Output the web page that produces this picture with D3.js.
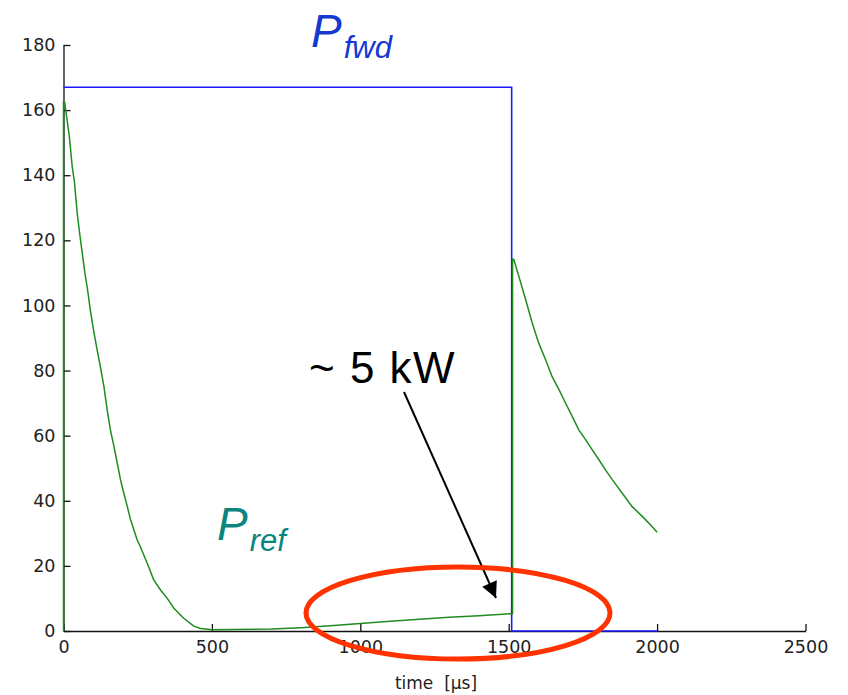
<!DOCTYPE html>
<html>
<head>
<meta charset="utf-8">
<script src="https://cdn.jsdelivr.net/npm/d3@7"></script>
<style>
  html, body { margin: 0; padding: 0; background: #fff; }
  svg { display: block; }
  .tick text { font-family: "DejaVu Sans", Arial, sans-serif; font-size: 17.5px; fill: #222; }
</style>
</head>
<body>
<svg id="chart" width="848" height="695"></svg>
<script>
// ---- data ----
const xTicks = [0, 500, 1000, 1500, 2000, 2500];
const yTicks = [0, 20, 40, 60, 80, 100, 120, 140, 160, 180];

const fwdTime = [0, 1510, 1510, 2000];
const fwdPower = [167, 167, 0, 0];

const refTime = [0, 0, 4, 12, 20, 29, 37, 46, 54, 63, 72, 81, 90, 99, 110, 124, 136, 147, 158, 170, 181, 192, 203, 215, 226, 237, 248, 259, 282, 304, 327, 349, 372, 405, 439, 462, 500, 700, 800, 900, 1000, 1100, 1200, 1300, 1400, 1505, 1513, 1513, 1517, 1534, 1557, 1579, 1601, 1624, 1646, 1669, 1691, 1714, 1736, 1759, 1781, 1804, 1826, 1849, 1882, 1916, 1950, 1983, 2000];
const refPower = [0, 162.5, 162.4, 157, 151.6, 142.9, 137.8, 128.5, 122.4, 116.2, 110, 104.9, 98.8, 93.6, 88, 81.3, 75.2, 68, 61.8, 56.7, 51.6, 46.5, 42.4, 38.2, 34.2, 31.1, 28, 25.9, 20.8, 15.7, 12.6, 10.1, 7, 3.9, 1.5, 0.8, 0.4, 0.6, 1.0, 1.6, 2.3, 3.0, 3.6, 4.2, 4.7, 5.3, 5.3, 114.2, 114.2, 109, 101.8, 94.7, 88.5, 83.4, 78.2, 74.2, 70.1, 65.9, 61.8, 58.8, 55.7, 52.6, 49.5, 46.5, 42.4, 38.2, 35.2, 32.1, 30.3];

const xLabel = "time  [\u00b5s]";

// ---- chart ----
const svg = d3.select("#chart");
const x = d3.scaleLinear().domain([0, 2500]).range([63.5, 805.5]);
const y = d3.scaleLinear().domain([0, 180]).range([631, 45]);

const line = d3.line().x(d => x(d[0])).y(d => y(d[1]));

// axes
const yAxis = svg.append("g")
  .attr("transform", `translate(${x(0)},0)`)
  .call(d3.axisLeft(y).tickValues(yTicks).tickFormat(d3.format("d"))
    .tickSizeInner(-7).tickSizeOuter(0).tickPadding(8));
const xAxis = svg.append("g")
  .attr("transform", `translate(0,${y(0)})`)
  .call(d3.axisBottom(x).tickValues(xTicks).tickFormat(d3.format("d"))
    .tickSizeInner(-7).tickSizeOuter(0).tickPadding(10));
[xAxis, yAxis].forEach(g => {
  g.selectAll("path.domain").attr("stroke", "#111").attr("stroke-width", 1.3);
  g.selectAll(".tick line").attr("stroke", "#111").attr("stroke-width", 1.3);
});

// series
svg.append("path")
  .attr("d", line(fwdTime.map((t, i) => [t, fwdPower[i]])))
  .attr("fill", "none").attr("stroke", "#1a1aff").attr("stroke-width", 1.6);
svg.append("path")
  .attr("d", line(refTime.map((t, i) => [t, refPower[i]])))
  .attr("fill", "none").attr("stroke", "#1e8c1e").attr("stroke-width", 1.5);

// axis label
svg.append("text")
  .attr("x", 436).attr("y", 689)
  .attr("text-anchor", "middle")
  .attr("font-family", "DejaVu Sans, Arial, sans-serif")
  .attr("font-size", 17).attr("fill", "#222")
  .style("white-space", "pre")
  .text(xLabel);

// P_fwd label
const tf = svg.append("text")
  .attr("x", 311).attr("y", 47)
  .attr("font-family", "Liberation Sans, Arial, sans-serif")
  .attr("font-style", "italic").attr("fill", "#1438d0");
tf.append("tspan").attr("font-size", 46).text("P");
tf.append("tspan").attr("font-size", 31).attr("dx", 2).attr("dy", 11).text("fwd");

// P_ref label
const tr = svg.append("text")
  .attr("x", 217).attr("y", 540)
  .attr("font-family", "Liberation Sans, Arial, sans-serif")
  .attr("font-style", "italic").attr("fill", "#0a8580");
tr.append("tspan").attr("font-size", 46).text("P");
tr.append("tspan").attr("font-size", 31).attr("dx", 2).attr("dy", 11).text("ref");

// ~5 kW annotation
svg.append("text")
  .attr("x", 309).attr("y", 383)
  .attr("font-family", "Liberation Sans, Arial, sans-serif")
  .attr("font-size", 44).attr("fill", "#000")
  .attr("letter-spacing", 1.5)
  .style("white-space", "pre")
  .text("~ 5 kW");

const defs = svg.append("defs");
defs.append("marker")
  .attr("id", "arrow").attr("viewBox", "0 0 10 10")
  .attr("refX", 10).attr("refY", 5)
  .attr("markerWidth", 20).attr("markerHeight", 16)
  .attr("markerUnits", "userSpaceOnUse")
  .attr("orient", "auto")
  .append("path").attr("d", "M0,0 L10,5 L0,10 z").attr("fill", "#000");

svg.append("line")
  .attr("x1", 404).attr("y1", 392)
  .attr("x2", 496).attr("y2", 598)
  .attr("stroke", "#000").attr("stroke-width", 2)
  .attr("marker-end", "url(#arrow)");

// red ellipse
svg.append("ellipse")
  .attr("cx", 458).attr("cy", 613)
  .attr("rx", 152).attr("ry", 46)
  .attr("fill", "none").attr("stroke", "#ff3300").attr("stroke-width", 5);
</script>
</body>
</html>
